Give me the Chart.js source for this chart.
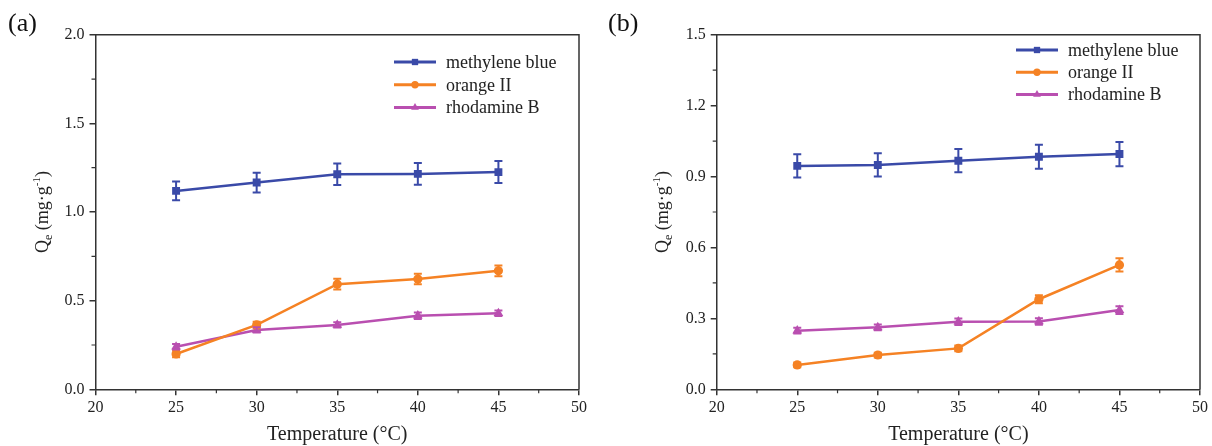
<!DOCTYPE html>
<html>
<head>
<meta charset="UTF-8">
<title>Qe vs temperature</title>
<script src="https://cdn.jsdelivr.net/npm/chart.js"></script>
<style>
  body { margin: 0; background: #fff; }
  canvas { position: absolute; top: 0; }
  #chartA { left: 0; }
  #chartB { left: 600px; }
</style>
</head>
<body>
<canvas id="chartA" width="600" height="446"></canvas>
<canvas id="chartB" width="612" height="446"></canvas>

<script>
var temperatures = [25, 30, 35, 40, 45];
var seriesNames = ['methylene blue', 'orange II', 'rhodamine B'];
var xTicks = [20, 25, 30, 35, 40, 45, 50];
var xMinorTicks = [22.5, 27.5, 32.5, 37.5, 42.5, 47.5];

// panel (a)
var mbA = [1.119, 1.166, 1.213, 1.215, 1.225];
var mbErrA = [0.053, 0.056, 0.061, 0.062, 0.062];
var oiA = [0.199, 0.363, 0.593, 0.622, 0.668];
var oiErrA = [0.018, 0.018, 0.03, 0.03, 0.03];
var rbA = [0.240, 0.335, 0.363, 0.415, 0.429];
var rbErrA = [0.015, 0.015, 0.015, 0.018, 0.016];
var yTicksA = [0, 0.5, 1.0, 1.5, 2.0];
var yMinorTicksA = [0.25, 0.75, 1.25, 1.75];

// panel (b)
var mbB = [0.945, 0.949, 0.967, 0.984, 0.995];
var mbErrB = [0.049, 0.049, 0.049, 0.051, 0.051];
var oiB = [0.103, 0.145, 0.173, 0.381, 0.526];
var oiErrB = [0.01, 0.01, 0.012, 0.017, 0.028];
var rbB = [0.248, 0.262, 0.286, 0.287, 0.335];
var rbErrB = [0.012, 0.012, 0.014, 0.014, 0.016];
var yTicksB = [0, 0.3, 0.6, 0.9, 1.2, 1.5];
var yMinorTicksB = [0.15, 0.45, 0.75, 1.05, 1.35];

var colors = ['#3a4aa8', '#f58224', '#b94fb0'];
var pointStyles = ['rect', 'circle', 'triangle'];
var pointRadii = [5.6, 4.6, 5.6];
var axisColor = '#333';
var serif = 'Liberation Serif, Times New Roman, serif';

function toPoints(values) {
  return temperatures.map(function (t, i) { return { x: t, y: values[i] }; });
}

function makeDatasets(values, errors) {
  return values.map(function (v, i) {
    return {
      label: seriesNames[i],
      data: toPoints(v),
      errors: errors[i],
      borderColor: colors[i],
      backgroundColor: colors[i],
      borderWidth: 2.5,
      pointStyle: pointStyles[i],
      pointRadius: pointRadii[i],
      pointBorderWidth: 0,
      tension: 0
    };
  });
}

// error bars, minor ticks, frame, titles and legend
var extras = {
  id: 'extras',
  afterDatasetsDraw: function (chart) {
    var ctx = chart.ctx;
    ctx.save();
    chart.data.datasets.forEach(function (ds) {
      ctx.strokeStyle = ds.borderColor;
      ctx.lineWidth = 2;
      ds.data.forEach(function (p, i) {
        var e = ds.errors[i];
        var px = chart.scales.x.getPixelForValue(p.x);
        var top = chart.scales.y.getPixelForValue(p.y + e);
        var bot = chart.scales.y.getPixelForValue(p.y - e);
        ctx.beginPath();
        ctx.moveTo(px, top); ctx.lineTo(px, bot);
        ctx.moveTo(px - 4, top); ctx.lineTo(px + 4, top);
        ctx.moveTo(px - 4, bot); ctx.lineTo(px + 4, bot);
        ctx.stroke();
      });
    });
    ctx.restore();
  },
  afterDraw: function (chart) {
    var o = chart.options.plugins.extras;
    var ctx = chart.ctx;
    var a = chart.chartArea;
    var xs = chart.scales.x, ys = chart.scales.y;
    ctx.save();

    // top and right frame
    ctx.strokeStyle = axisColor;
    ctx.lineWidth = 1.5;
    ctx.beginPath();
    ctx.moveTo(a.left, a.top); ctx.lineTo(a.right, a.top); ctx.lineTo(a.right, a.bottom);
    ctx.stroke();

    // minor ticks
    ctx.lineWidth = 1.2;
    ctx.beginPath();
    xMinorTicks.forEach(function (v) {
      var px = xs.getPixelForValue(v);
      ctx.moveTo(px, a.bottom); ctx.lineTo(px, a.bottom + 4);
    });
    o.yMinor.forEach(function (v) {
      var py = ys.getPixelForValue(v);
      ctx.moveTo(a.left, py); ctx.lineTo(a.left - 4, py);
    });
    ctx.stroke();

    // panel tag
    ctx.fillStyle = '#111';
    ctx.font = '26px ' + serif;
    ctx.textBaseline = 'alphabetic';
    ctx.textAlign = 'left';
    ctx.fillText(o.tag, o.tagX, 31);

    // x title
    ctx.font = '20px ' + serif;
    ctx.textAlign = 'center';
    ctx.fillStyle = '#222';
    ctx.fillText('Temperature (\u00b0C)', (a.left + a.right) / 2, 440);

    // y title with subscript and superscript
    var parts = [
      { t: 'Q', s: 18, dy: 0 },
      { t: 'e', s: 12, dy: 4 },
      { t: ' (mg\u00b7g', s: 18, dy: 0 },
      { t: '-1', s: 11, dy: -8 },
      { t: ')', s: 18, dy: 0 }
    ];
    ctx.textAlign = 'left';
    var total = 0;
    parts.forEach(function (p) { ctx.font = p.s + 'px ' + serif; p.w = ctx.measureText(p.t).width; total += p.w; });
    ctx.translate(o.yTitleX, (a.top + a.bottom) / 2);
    ctx.rotate(-Math.PI / 2);
    var cx = -total / 2;
    parts.forEach(function (p) {
      ctx.font = p.s + 'px ' + serif;
      ctx.fillText(p.t, cx, 6 + p.dy);
      cx += p.w;
    });
    ctx.setTransform(1, 0, 0, 1, 0, 0);

    // legend
    ctx.font = '18px ' + serif;
    ctx.textBaseline = 'middle';
    chart.data.datasets.forEach(function (ds, i) {
      var y = o.legendY + i * o.legendGap;
      ctx.strokeStyle = ds.borderColor;
      ctx.fillStyle = ds.borderColor;
      ctx.lineWidth = 3;
      ctx.beginPath();
      ctx.moveTo(o.legendX, y); ctx.lineTo(o.legendX + 42, y);
      ctx.stroke();
      Chart.helpers.drawPoint(ctx, { pointStyle: ds.pointStyle, radius: ds.pointRadius * 0.8, rotation: 0, borderWidth: 0 }, o.legendX + 21, y);
      ctx.fillStyle = '#222';
      ctx.fillText(ds.label, o.legendX + 52, y + 1);
    });
    ctx.restore();
  }
};

function makeChart(id, datasets, yMax, yTicks, yMinor, pad, extraOpts) {
  return new Chart(document.getElementById(id), {
    type: 'line',
    data: { datasets: datasets },
    plugins: [extras],
    options: {
      responsive: false,
      animation: false,
      layout: { padding: pad },
      plugins: {
        legend: { display: false },
        tooltip: { enabled: false },
        extras: Object.assign({ yMinor: yMinor }, extraOpts)
      },
      scales: {
        x: {
          type: 'linear', min: 20, max: 50,
          afterBuildTicks: function (s) { s.ticks = xTicks.map(function (v) { return { value: v }; }); },
          ticks: { color: '#222', font: { family: serif, size: 16 }, padding: 3, maxRotation: 0, autoSkip: false,
                   callback: function (v) { return String(v); } },
          grid: { drawOnChartArea: false, tickLength: 6, color: axisColor, lineWidth: 1.5 },
          border: { color: axisColor, width: 1.5 },
          afterFit: function (s) { s.height = 30; s.paddingLeft = 0; s.paddingRight = 0; }
        },
        y: {
          type: 'linear', min: 0, max: yMax,
          afterBuildTicks: function (s) { s.ticks = yTicks.map(function (v) { return { value: v }; }); },
          ticks: { color: '#222', font: { family: serif, size: 16 }, padding: 5, autoSkip: false,
                   callback: function (v) { return v.toFixed(1); } },
          grid: { drawOnChartArea: false, tickLength: 6, color: axisColor, lineWidth: 1.5 },
          border: { color: axisColor, width: 1.5 },
          afterFit: function (s) { s.width = 50; s.paddingTop = 0; s.paddingBottom = 0; }
        }
      }
    }
  });
}

makeChart('chartA', makeDatasets([mbA, oiA, rbA], [mbErrA, oiErrA, rbErrA]), 2.0, yTicksA, yMinorTicksA,
  { left: 45.5, right: 21, top: 34.7, bottom: 26.7 },
  { tag: '(a)', tagX: 8, yTitleX: 42, legendX: 394, legendY: 62, legendGap: 22.8 });

makeChart('chartB', makeDatasets([mbB, oiB, rbB], [mbErrB, oiErrB, rbErrB]), 1.5, yTicksB, yMinorTicksB,
  { left: 66.7, right: 12, top: 34.7, bottom: 26.7 },
  { tag: '(b)', tagX: 8, yTitleX: 62, legendX: 416, legendY: 50, legendGap: 22.2 });
</script>
</body>
</html>
